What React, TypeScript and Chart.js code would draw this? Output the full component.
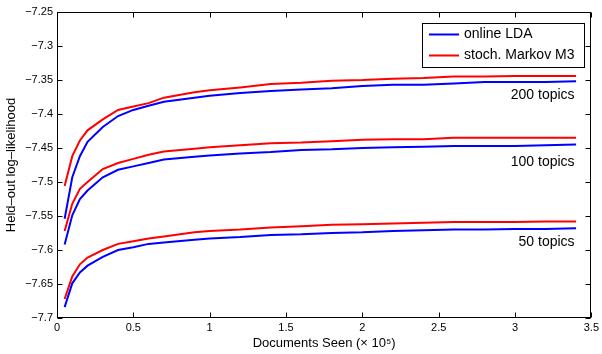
import React, { useEffect, useRef } from "react";
import { Chart, registerables } from "chart.js";
Chart.register(...registerables);

const docsSeen = [0.05, 0.1, 0.15, 0.2, 0.3, 0.4, 0.5, 0.6, 0.7, 0.9, 1.0, 1.2, 1.4, 1.6, 1.8, 2.0, 2.2, 2.4, 2.6, 2.8, 3.0, 3.2, 3.4];

const lda200 = [-7.554, -7.493, -7.462, -7.441, -7.419, -7.403, -7.394, -7.388, -7.382, -7.376, -7.373, -7.369, -7.366, -7.364, -7.362, -7.359, -7.357, -7.357, -7.355, -7.353, -7.353, -7.353, -7.352];
const markov200 = [-7.506, -7.462, -7.439, -7.424, -7.408, -7.394, -7.389, -7.384, -7.376, -7.368, -7.365, -7.361, -7.356, -7.354, -7.351, -7.35, -7.348, -7.347, -7.345, -7.345, -7.344, -7.344, -7.344];
const lda100 = [-7.592, -7.549, -7.525, -7.5125, -7.493, -7.482, -7.477, -7.472, -7.467, -7.463, -7.461, -7.458, -7.456, -7.453, -7.452, -7.45, -7.449, -7.448, -7.447, -7.447, -7.447, -7.446, -7.445];
const markov100 = [-7.572, -7.532, -7.51, -7.5, -7.481, -7.472, -7.466, -7.46, -7.455, -7.451, -7.449, -7.446, -7.443, -7.442, -7.44, -7.438, -7.437, -7.437, -7.435, -7.435, -7.435, -7.435, -7.435];
const lda50 = [-7.684, -7.649, -7.633, -7.623, -7.61, -7.6, -7.596, -7.591, -7.589, -7.585, -7.583, -7.581, -7.578, -7.577, -7.575, -7.574, -7.572, -7.571, -7.57, -7.57, -7.569, -7.569, -7.568];
const markov50 = [-7.672, -7.639, -7.621, -7.611, -7.6, -7.591, -7.587, -7.583, -7.58, -7.574, -7.572, -7.57, -7.567, -7.565, -7.563, -7.562, -7.561, -7.56, -7.559, -7.559, -7.559, -7.558, -7.558];

const seriesNames = ["online LDA", "stoch. Markov M3"];
const topicLabels = ["200 topics", "100 topics", "50 topics"];
const topicLabelX = [3.39, 3.39, 3.39];
const topicLabelY = [-7.372, -7.471, -7.589];

const xTicks = [0, 0.5, 1, 1.5, 2, 2.5, 3, 3.5];
const yTicks = [-7.7, -7.65, -7.6, -7.55, -7.5, -7.45, -7.4, -7.35, -7.3, -7.25];

const BLUE = "#0000ff";
const RED = "#ff0000";
const FONT = "'Liberation Sans', Arial, Helvetica, sans-serif";

const fmtY = (v: number) => {
  const s = String(Number(v.toFixed(2)));
  return s.replace("-", "\u2212");
};

const pts = (ys: number[]) => docsSeen.map((x, i) => ({ x, y: ys[i] }));

const framePlugin = {
  id: "frame",
  afterDraw(chart: any) {
    const { ctx, chartArea: a, scales } = chart;
    const xs = scales.x;
    const ys = scales.y;
    ctx.save();
    ctx.strokeStyle = "#000";
    ctx.lineWidth = 1;
    const L = Math.round(a.left) + 0.5;
    const R = Math.round(a.right) - 0.5;
    const T = Math.round(a.top) + 0.5;
    const B = Math.round(a.bottom) - 0.5;
    ctx.strokeRect(L, T, R - L, B - T);
    const tl = 5;
    ctx.beginPath();
    xTicks.forEach((v) => {
      const px = Math.round(xs.getPixelForValue(v)) + 0.5;
      ctx.moveTo(px, B);
      ctx.lineTo(px, B - tl);
      ctx.moveTo(px, T);
      ctx.lineTo(px, T + tl);
    });
    yTicks.forEach((v) => {
      const py = Math.round(ys.getPixelForValue(v)) + 0.5;
      ctx.moveTo(L, py);
      ctx.lineTo(L + tl, py);
      ctx.moveTo(R, py);
      ctx.lineTo(R - tl, py);
    });
    ctx.stroke();

    // topic labels
    ctx.fillStyle = "#000";
    ctx.font = `14px ${FONT}`;
    ctx.textAlign = "right";
    ctx.textBaseline = "middle";
    topicLabels.forEach((t, i) => {
      ctx.fillText(t, xs.getPixelForValue(topicLabelX[i]), ys.getPixelForValue(topicLabelY[i]));
    });

    // legend
    const bx = 422, by = 23, bw = 162, bh = 44;
    ctx.fillStyle = "#fff";
    ctx.fillRect(bx, by, bw, bh);
    ctx.strokeStyle = "#000";
    ctx.lineWidth = 1;
    ctx.strokeRect(bx + 0.5, by + 0.5, bw, bh);
    const rows = [34.5, 55.5];
    const colors = [BLUE, RED];
    rows.forEach((ry, i) => {
      ctx.strokeStyle = colors[i];
      ctx.lineWidth = 2;
      ctx.beginPath();
      ctx.moveTo(429, ry);
      ctx.lineTo(459, ry);
      ctx.stroke();
      ctx.fillStyle = "#000";
      ctx.textAlign = "left";
      ctx.textBaseline = "middle";
      ctx.fillText(seriesNames[i], 464, ry);
    });
    ctx.restore();
  },
};

export default function App() {
  const ref = useRef<HTMLCanvasElement | null>(null);
  useEffect(() => {
    if (!ref.current) return;
    Chart.defaults.font.family = FONT;
    const mk = (label: string, ys: number[], color: string) => ({
      label,
      data: pts(ys),
      borderColor: color,
      backgroundColor: color,
      borderWidth: 2,
      pointRadius: 0,
      fill: false,
      tension: 0,
    });
    const chart = new Chart(ref.current, {
      type: "line",
      data: {
        datasets: [
          mk(seriesNames[0], lda200, BLUE),
          mk(seriesNames[1], markov200, RED),
          mk(seriesNames[0], lda100, BLUE),
          mk(seriesNames[1], markov100, RED),
          mk(seriesNames[0], lda50, BLUE),
          mk(seriesNames[1], markov50, RED),
        ],
      },
      options: {
        responsive: false,
        animation: false,
        devicePixelRatio: 1,
        layout: { padding: { top: 12, right: 8, left: 0, bottom: 0 } },
        plugins: { legend: { display: false }, tooltip: { enabled: false } },
        scales: {
          x: {
            type: "linear",
            min: 0,
            max: 3.5,
            afterBuildTicks: (s: any) => {
              s.ticks = xTicks.map((v) => ({ value: v }));
            },
            afterFit: (s: any) => {
              s.height = 36;
            },
            grid: { display: false, drawTicks: false },
            border: { display: false },
            ticks: {
              padding: 3,
              color: "#000",
              font: { size: 11 },
              maxRotation: 0,
              callback: (v: any) => String(Number(Number(v).toFixed(2))),
            },
            title: {
              display: true,
              text: "Documents Seen (\u00d7 10\u2075)",
              color: "#000",
              font: { size: 13 },
              padding: { top: 0, bottom: 3 },
            },
          },
          y: {
            type: "linear",
            min: -7.7,
            max: -7.25,
            afterBuildTicks: (s: any) => {
              s.ticks = yTicks.map((v) => ({ value: v }));
            },
            afterFit: (s: any) => {
              s.width = 57;
            },
            grid: { display: false, drawTicks: false },
            border: { display: false },
            ticks: {
              padding: 4,
              color: "#000",
              font: { size: 11 },
              callback: (v: any) => fmtY(Number(v)),
            },
            title: {
              display: true,
              text: "Held\u2013out log\u2013likelihood",
              color: "#000",
              font: { size: 13 },
              padding: { top: 4, bottom: 0 },
            },
          },
        },
      },
      plugins: [framePlugin],
    } as any);
    return () => chart.destroy();
  }, []);
  return (
    <div style={{ position: "fixed", left: 0, top: 0, width: 602, height: 354, background: "#fff" }}>
      <canvas ref={ref} width={602} height={354} style={{ display: "block" }} />
    </div>
  );
}
